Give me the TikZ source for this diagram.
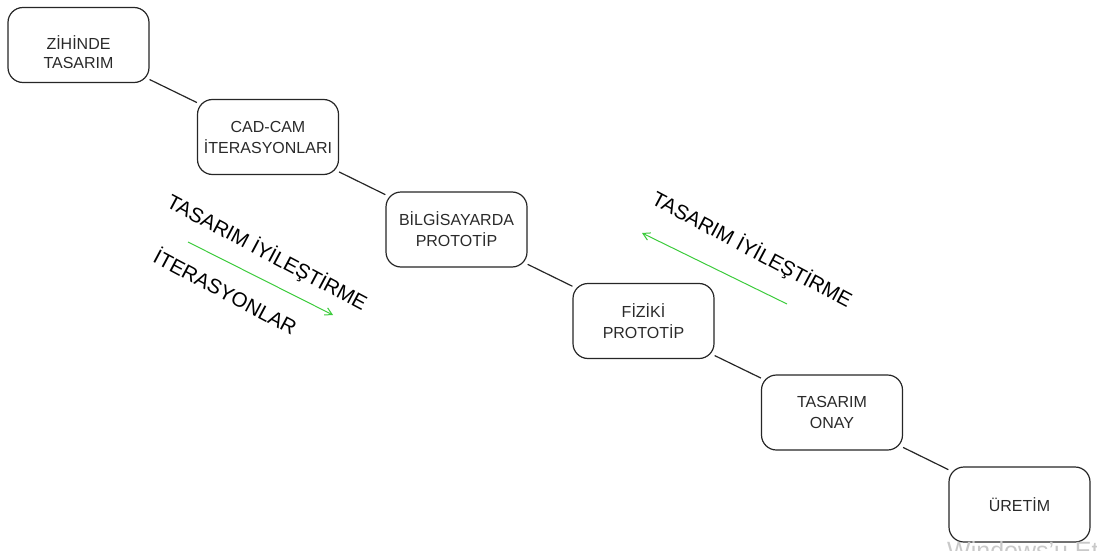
\documentclass[tikz,border=0pt]{standalone}
\usepackage{fontspec}
\setmainfont{Liberation Sans}
\usetikzlibrary{arrows.meta}
\definecolor{boxtext}{HTML}{2A2A2A}
\definecolor{arrowgreen}{HTML}{3CCB3C}
\definecolor{wmgray}{HTML}{C9C9C9}
\tikzset{
  stepbox/.style={draw=black!85, line width=1.2pt, rounded corners=15pt, fill=white,
    minimum width=141pt, minimum height=75pt, align=center,
    font=\fontsize{16}{21}\selectfont, text=boxtext, inner sep=0pt},
  link/.style={draw=black!85, line width=1.2pt},
  turnlabel/.style={font=\fontsize{20.5}{24}\selectfont, rotate=-28, text=black},
  feedback/.style={draw=arrowgreen, line width=1pt, -{Straight Barb[length=7pt,width=8pt]}}
}
\begin{document}
\begin{tikzpicture}[x=1pt, y=-1pt]
  \useasboundingbox (0,0) rectangle (1097,551);

  % process stages
  \node[stepbox] (zihin)  at (78.5,45)    {\raisebox{-14pt}[0pt][0pt]{\begin{tabular}{@{}c@{}}ZİHİNDE\\[-2pt]TASARIM\end{tabular}}};
  \node[stepbox] (cadcam) at (268,137)    {CAD-CAM\\İTERASYONLARI};
  \node[stepbox] (bilgi)  at (456.5,229.5){BİLGİSAYARDA\\PROTOTİP};
  \node[stepbox] (fizik)  at (643.5,321)  {FİZİKİ\\PROTOTİP};
  \node[stepbox] (onay)   at (832,412.5)  {TASARIM\\ONAY};
  \node[stepbox] (uretim) at (1019.5,504.5){ÜRETİM};

  \draw[link] (zihin) -- (cadcam);
  \draw[link] (cadcam) -- (bilgi);
  \draw[link] (bilgi) -- (fizik);
  \draw[link] (fizik) -- (onay);
  \draw[link] (onay) -- (uretim);

  % improvement loops
  \node[turnlabel] (iyiA) at (267,253) {TASARIM İYİLEŞTİRME};
  \node[turnlabel] (iter) at (226,291) {İTERASYONLAR};
  \node[turnlabel] (iyiB) at (752,250) {TASARIM İYİLEŞTİRME};

  \coordinate (fA) at (188,242);
  \coordinate (tA) at (333,315);
  \coordinate (fB) at (787,304);
  \coordinate (tB) at (642,233);
  \draw[feedback] (fA) -- (tA);
  \draw[feedback] (fB) -- (tB);

  % activation notice at the lower edge
  \begin{scope}
    \clip (0,0) rectangle (1097,551);
    \node[anchor=base west, inner sep=0pt, text=wmgray,
          font=\fontsize{25}{29}\selectfont] (wm) at (947,559) {Windows'u Etkinleştir};
  \end{scope}
\end{tikzpicture}
\end{document}
